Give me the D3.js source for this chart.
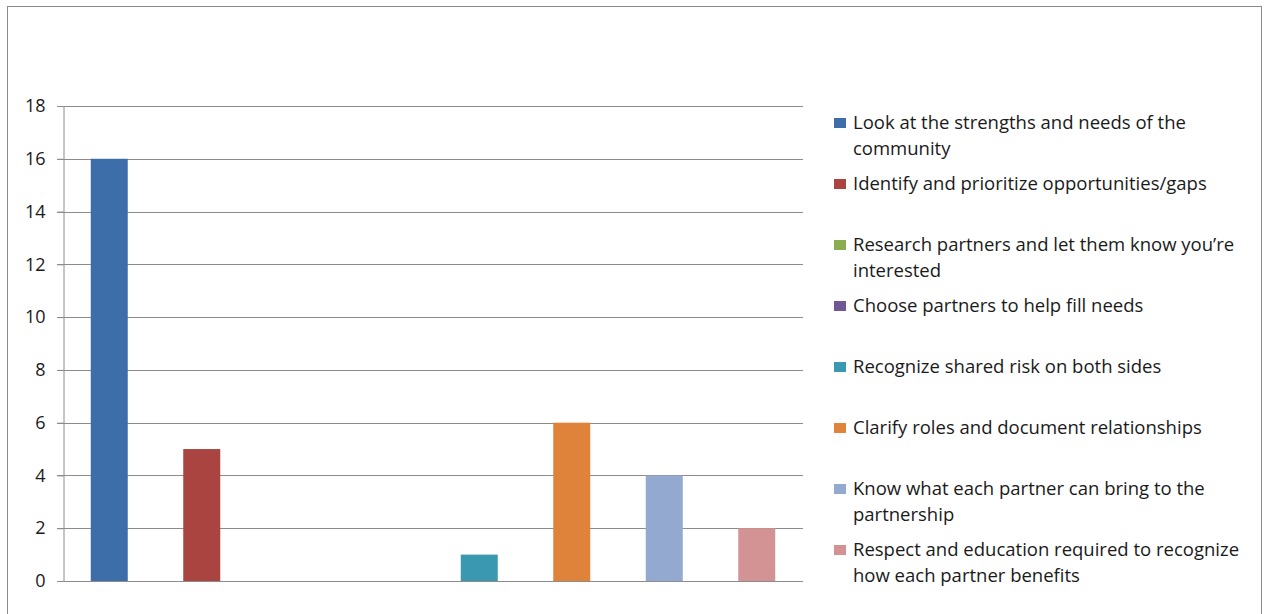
<!DOCTYPE html>
<html>
<head>
<meta charset="utf-8">
<script src="https://cdn.jsdelivr.net/npm/d3@7"></script>
<style>
  body { margin: 0; background: #fff; }
  text { font-family: "Open Sans", Lato, sans-serif; fill: #1a1a1a; }
</style>
</head>
<body>
<div id="chart"></div>
<script>
var w = 1265,
    h = 614;

// data
var categories = [
    "Look at the strengths and needs of the community",
    "Identify and prioritize opportunities/gaps",
    "Research partners and let them know you\u2019re interested",
    "Choose partners to help fill needs",
    "Recognize shared risk on both sides",
    "Clarify roles and document relationships",
    "Know what each partner can bring to the partnership",
    "Respect and education required to recognize how each partner benefits"
];
var legendLines = [
    ["Look at the strengths and needs of the", "community"],
    ["Identify and prioritize opportunities/gaps"],
    ["Research partners and let them know you\u2019re", "interested"],
    ["Choose partners to help fill needs"],
    ["Recognize shared risk on both sides"],
    ["Clarify roles and document relationships"],
    ["Know what each partner can bring to the", "partnership"],
    ["Respect and education required to recognize", "how each partner benefits"]
];
var values = [16, 5, 0, 0, 1, 6, 4, 2];
var yTicks = [0, 2, 4, 6, 8, 10, 12, 14, 16, 18];
var colors = ["#3d6ea9", "#a94441", "#8aae4f", "#6f5894", "#3b98b1", "#e0833a", "#93a9cf", "#d39293"];

var color = d3.scaleOrdinal().domain(categories).range(colors);

var svg = d3.select("#chart").append("svg")
    .attr("width", w)
    .attr("height", h);

// outer chart frame
svg.append("rect")
    .attr("x", 7.5).attr("y", 6.5)
    .attr("width", 1254).attr("height", 620)
    .attr("fill", "none")
    .attr("stroke", "#8a8a8a")
    .attr("stroke-width", 1);

var plot = { left: 63, right: 803, top: 106, bottom: 581 };

var x = d3.scaleBand()
    .domain(categories)
    .range([plot.left, plot.right])
    .paddingInner(0.6)
    .paddingOuter(0.3);

var y = d3.scaleLinear()
    .domain([0, 18])
    .range([plot.bottom, plot.top]);

// gridlines
svg.append("g")
    .selectAll("line")
    .data(yTicks)
    .enter().append("line")
    .attr("x1", plot.left - 6)
    .attr("x2", plot.right)
    .attr("y1", function(d) { return Math.round(y(d)) + 0.5; })
    .attr("y2", function(d) { return Math.round(y(d)) + 0.5; })
    .attr("stroke", "#8c8c8c")
    .attr("stroke-width", 1);

// bars
svg.append("g")
    .selectAll("rect")
    .data(values)
    .enter().append("rect")
    .attr("x", function(d, i) { return x(categories[i]); })
    .attr("y", function(d) { return y(d); })
    .attr("width", x.bandwidth())
    .attr("height", function(d) { return y(0) - y(d); })
    .attr("fill", function(d, i) { return color(categories[i]); });

// y axis
var yAxis = svg.append("g")
    .attr("transform", "translate(" + (plot.left + 0.5) + ",0)")
    .call(d3.axisLeft(y).tickValues(yTicks).tickSize(6).tickPadding(12));
yAxis.select(".domain").attr("stroke", "#8c8c8c");
yAxis.selectAll(".tick line").attr("stroke", "#8c8c8c");
yAxis.selectAll(".tick text")
    .style("font-family", "'Open Sans', Lato, sans-serif")
    .style("font-size", "18px")
    .attr("fill", "#1a1a1a");

// legend
var legend = svg.append("g")
    .selectAll("g")
    .data(categories)
    .enter().append("g")
    .attr("transform", function(d, i) { return "translate(834," + (129 + i * 61) + ")"; });

legend.append("rect")
    .attr("x", 0).attr("y", -11)
    .attr("width", 12).attr("height", 10)
    .attr("fill", function(d) { return color(d); });

legend.append("text")
    .attr("x", 19)
    .style("font-size", "18.5px")
    .selectAll("tspan")
    .data(function(d, i) { return legendLines[i]; })
    .enter().append("tspan")
    .attr("x", 19)
    .attr("dy", function(d, j) { return j === 0 ? 0 : 26; })
    .text(function(d) { return d; });
</script>
</body>
</html>
